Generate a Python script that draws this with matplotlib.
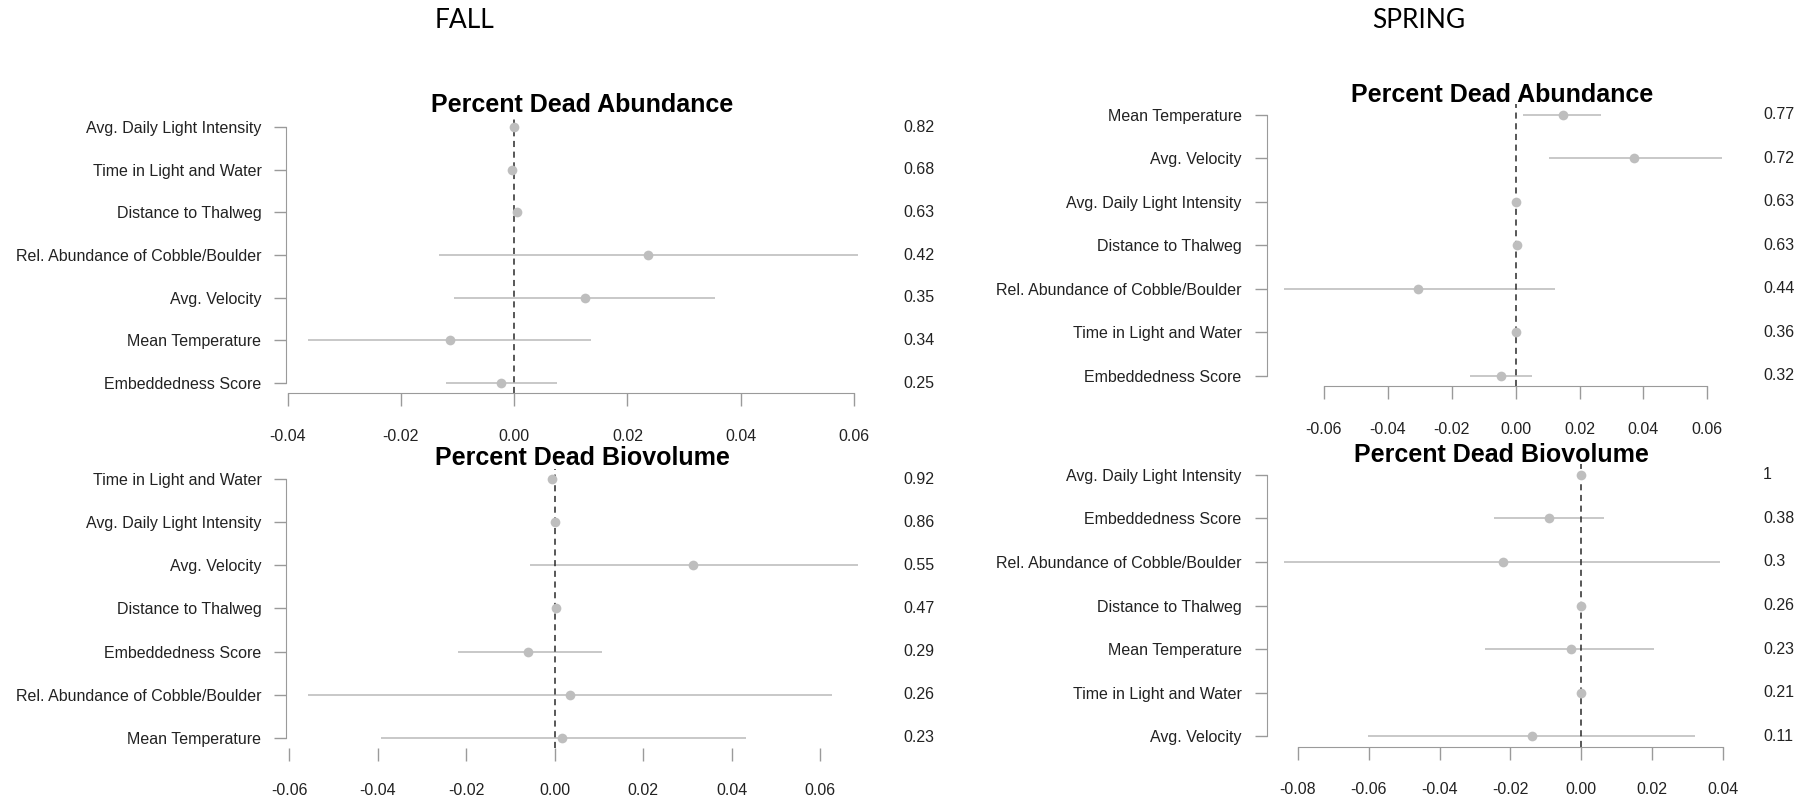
import matplotlib
matplotlib.use("Agg")
import matplotlib.pyplot as plt
from matplotlib.transforms import blended_transform_factory

FIG_W, FIG_H = 1808, 799
DPI = 100

# ---- data (rows listed top to bottom) ----
fall_abund_labels = ["Avg. Daily Light Intensity", "Time in Light and Water", "Distance to Thalweg",
                     "Rel. Abundance of Cobble/Boulder", "Avg. Velocity", "Mean Temperature",
                     "Embeddedness Score"]
fall_abund_mean = [0.0, -0.0003, 0.0005, 0.0236, 0.0125, -0.0113, -0.0024]
fall_abund_low = [0.0, -0.0003, 0.0005, -0.0133, -0.0106, -0.0363, -0.0121]
fall_abund_high = [0.0, -0.0003, 0.0005, 0.0607, 0.0355, 0.0136, 0.0076]
fall_abund_weight = [0.82, 0.68, 0.63, 0.42, 0.35, 0.34, 0.25]
fall_abund_ticks = [-0.04, -0.02, 0.00, 0.02, 0.04, 0.06]

spring_abund_labels = ["Mean Temperature", "Avg. Velocity", "Avg. Daily Light Intensity",
                       "Distance to Thalweg", "Rel. Abundance of Cobble/Boulder",
                       "Time in Light and Water", "Embeddedness Score"]
spring_abund_mean = [0.0147, 0.0371, 0.0, 0.0004, -0.0306, 0.0, -0.0045]
spring_abund_low = [0.0024, 0.0105, 0.0, 0.0004, -0.0724, 0.0, -0.0143]
spring_abund_high = [0.0268, 0.0644, 0.0, 0.0004, 0.0123, 0.0, 0.0051]
spring_abund_weight = [0.77, 0.72, 0.63, 0.63, 0.44, 0.36, 0.32]
spring_abund_ticks = [-0.06, -0.04, -0.02, 0.00, 0.02, 0.04, 0.06]

fall_bio_labels = ["Time in Light and Water", "Avg. Daily Light Intensity", "Avg. Velocity",
                   "Distance to Thalweg", "Embeddedness Score", "Rel. Abundance of Cobble/Boulder",
                   "Mean Temperature"]
fall_bio_mean = [-0.0005, 0.0001, 0.0312, 0.0003, -0.0060, 0.0034, 0.0017]
fall_bio_low = [-0.0005, 0.0001, -0.0057, 0.0003, -0.0218, -0.0557, -0.0394]
fall_bio_high = [-0.0005, 0.0001, 0.0685, 0.0003, 0.0106, 0.0627, 0.0432]
fall_bio_weight = [0.92, 0.86, 0.55, 0.47, 0.29, 0.26, 0.23]
fall_bio_ticks = [-0.06, -0.04, -0.02, 0.00, 0.02, 0.04, 0.06]

spring_bio_labels = ["Avg. Daily Light Intensity", "Embeddedness Score", "Rel. Abundance of Cobble/Boulder",
                     "Distance to Thalweg", "Mean Temperature", "Time in Light and Water",
                     "Avg. Velocity"]
spring_bio_mean = [0.0, -0.0090, -0.0222, 0.0, -0.0029, 0.0, -0.0139]
spring_bio_low = [0.0, -0.0247, -0.0839, 0.0, -0.0271, 0.0, -0.0602]
spring_bio_high = [0.0, 0.0064, 0.0390, 0.0, 0.0206, 0.0, 0.0320]
spring_bio_weight = [1.0, 0.38, 0.30, 0.26, 0.23, 0.21, 0.11]
spring_bio_ticks = [-0.08, -0.06, -0.04, -0.02, 0.00, 0.02, 0.04]

POINT_COLOR = "#bebebe"
LINE_COLOR = "#c8c8c8"
AXIS_COLOR = "#9a9a9a"
TEXT_COLOR = "#222222"
FONT = ["Liberation Sans", "DejaVu Sans"]

plt.rcParams["font.family"] = FONT

fig = plt.figure(figsize=(FIG_W / DPI, FIG_H / DPI), dpi=DPI)
fig.patch.set_facecolor("white")


def px_axes(left, right, top, bottom):
    # axes placed by pixel edges of the 1808x799 canvas
    return fig.add_axes([left / FIG_W, 1 - bottom / FIG_H, (right - left) / FIG_W, (bottom - top) / FIG_H])


def draw_panel(ax, title, labels, mean, low, high, weight, ticks, value_x, title_xy, show_xline=True):
    n = len(labels)
    ys = list(range(n, 0, -1))

    ax.hlines(ys, low, high, color=LINE_COLOR, linewidth=1.4, zorder=1)
    ax.plot(mean, ys, "o", color=POINT_COLOR, markersize=7, markeredgewidth=0, zorder=3)
    ax.axvline(0, color="#2a2a2a", linestyle=(0, (4, 3)), linewidth=1.1, zorder=2)

    # R-style 4% padding around the data range
    lo, hi = min(low), max(high)
    pad = 0.04 * (hi - lo)
    ax.set_xlim(lo - pad, hi + pad)
    ax.set_ylim(1 - 0.04 * (n - 1), n + 0.04 * (n - 1))

    ax.set_yticks(ys)
    ax.set_yticklabels(labels)
    ax.set_xticks(ticks)
    ax.set_xticklabels([f"{t:.2f}" for t in ticks])

    for side in ["top", "right"]:
        ax.spines[side].set_visible(False)
    ax.spines["left"].set_bounds(1, n)
    ax.spines["left"].set_color(AXIS_COLOR)
    ax.spines["bottom"].set_bounds(ticks[0], ticks[-1])
    ax.spines["bottom"].set_color(AXIS_COLOR)
    ax.spines["bottom"].set_visible(show_xline)

    ax.tick_params(axis="y", direction="out", length=9, width=1, color=AXIS_COLOR,
                   labelsize=11.5, labelcolor=TEXT_COLOR, pad=9)
    ax.tick_params(axis="x", direction="out", length=9.5, width=1, color=AXIS_COLOR,
                   labelsize=11.5, labelcolor=TEXT_COLOR, pad=16)
    ax.set_facecolor("none")

    # right-hand column of values
    trans = blended_transform_factory(fig.transFigure, ax.transData)
    for y, w in zip(ys, weight):
        ax.text(value_x / FIG_W, y, f"{w:g}", transform=trans, ha="left", va="center",
                fontsize=11.5, color=TEXT_COLOR, clip_on=False)

    fig.text(title_xy[0] / FIG_W, 1 - title_xy[1] / FIG_H, title, ha="center", va="center",
             fontsize=18, fontweight="bold", color="black", family=FONT)


ax1 = px_axes(286.5, 880, 116.8, 393.3)
draw_panel(ax1, "Percent Dead Abundance", fall_abund_labels, fall_abund_mean, fall_abund_low,
           fall_abund_high, fall_abund_weight, fall_abund_ticks, 903, (582, 105))

ax2 = px_axes(1266.6, 1739, 104.3, 386.2)
draw_panel(ax2, "Percent Dead Abundance", spring_abund_labels, spring_abund_mean, spring_abund_low,
           spring_abund_high, spring_abund_weight, spring_abund_ticks, 1763, (1502, 95))

ax3 = px_axes(286.5, 879.5, 468.9, 748)
draw_panel(ax3, "Percent Dead Biovolume", fall_bio_labels, fall_bio_mean, fall_bio_low,
           fall_bio_high, fall_bio_weight, fall_bio_ticks, 903, (582, 458), show_xline=False)

ax4 = px_axes(1266.6, 1737, 464.3, 746.8)
draw_panel(ax4, "Percent Dead Biovolume", spring_bio_labels, spring_bio_mean, spring_bio_low,
           spring_bio_high, spring_bio_weight, spring_bio_ticks, 1763, (1501, 455))

# season headers
fig.text(435 / FIG_W, 1 - 21 / FIG_H, "FALL", ha="left", va="center", fontsize=19,
         color="black", family=["Lato", "DejaVu Sans"])
fig.text(1372 / FIG_W, 1 - 20 / FIG_H, "SPRING", ha="left", va="center", fontsize=19,
         color="black", family=["Lato", "DejaVu Sans"])

fig.savefig("out.png", dpi=DPI, facecolor="white")
